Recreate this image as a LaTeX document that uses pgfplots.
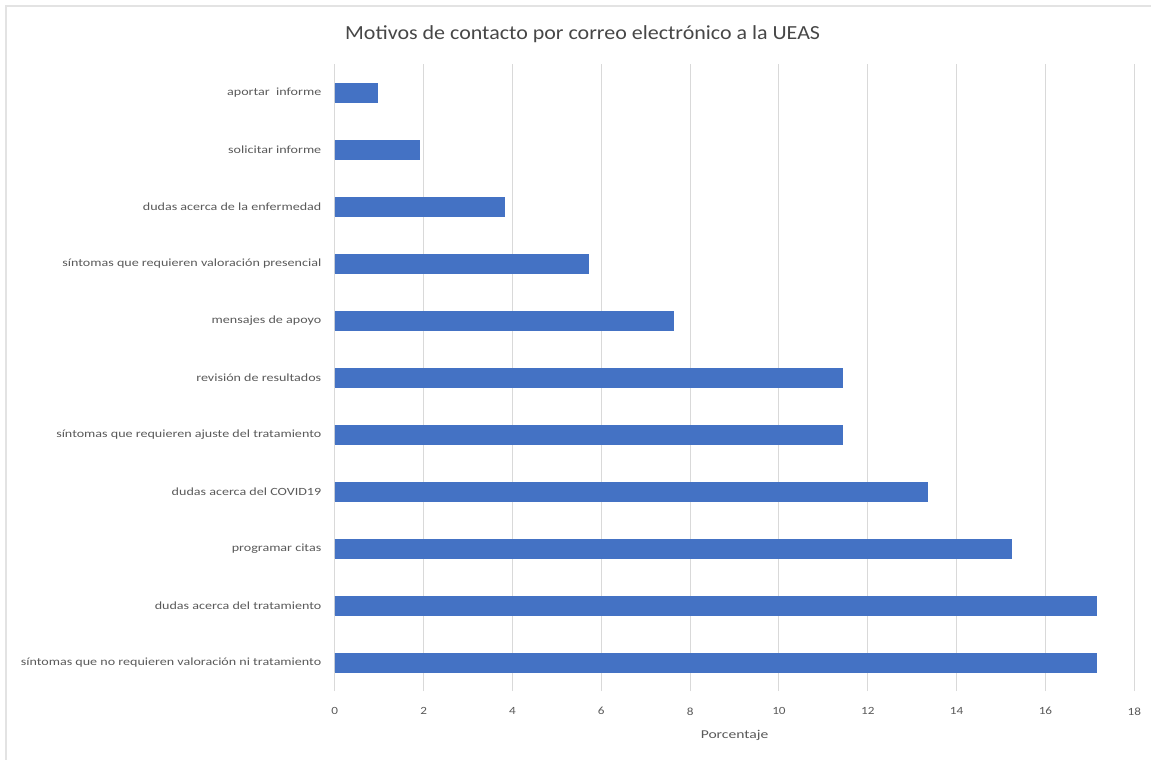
\documentclass[border=0pt]{standalone}
\usepackage{pgfplots}
\pgfplotsset{compat=1.18}
\usepackage{fontspec}
\setmainfont{Carlito}
\definecolor{barblue}{HTML}{4472C4}
\definecolor{gridgray}{HTML}{D9D9D9}
\definecolor{txtgray}{HTML}{595959}
\definecolor{framegray}{HTML}{E3E3E3}

\begin{document}
\begin{tikzpicture}[x=1pt,y=1pt]
  % page frame (reference is 1152 x 760 px)
  \path (0,0) rectangle (1152,760);
  \draw[framegray, line width=1.5pt] (6,0) -- (6,754) -- (1152,754);

  \node[anchor=center, text=txtgray!80!black, xscale=1.1,
        font=\fontsize{20}{24}\selectfont]
    at (583,726) {Motivos de contacto por correo electrónico a la UEAS};

  \begin{axis}[
    at={(335pt,68.5pt)}, anchor=south west,
    scale only axis,
    width=800pt, height=627pt,
    xbar,
    bar width=19pt,
    xmin=0, xmax=18,
    ymin=-0.5, ymax=10.5,
    xtick={0,2,...,18},
    ytick={0,...,10},
    yticklabels={
      síntomas que no requieren valoración ni tratamiento,
      dudas acerca del tratamiento,
      programar citas,
      dudas acerca del COVID19,
      síntomas que requieren ajuste del tratamiento,
      revisión de resultados,
      mensajes de apoyo,
      síntomas que requieren valoración presencial,
      dudas acerca de la enfermedad,
      solicitar informe,
      aportar\ \ informe},
    xmajorgrids,
    grid style={gridgray, line width=1pt},
    axis line style={draw=none},
    major tick length=0pt,
    tick label style={text=txtgray, font=\fontsize{11}{13}\selectfont},
    /pgf/number format/assume math mode=true,
    xticklabel style={yshift=-13pt, xscale=1.2},
    yticklabel style={xshift=-9pt, xscale=1.28},
    xlabel={Porcentaje},
    xlabel style={text=txtgray, font=\fontsize{12}{14}\selectfont,
                  xscale=1.3, yshift=-8pt},
  ]
    \addplot[fill=barblue, draw=barblue] coordinates {
      (17.14,0) (17.14,1) (15.24,2) (13.33,3) (11.43,4) (11.43,5)
      (7.62,6) (5.71,7) (3.81,8) (1.90,9) (0.95,10)
    };
  \end{axis}
\end{tikzpicture}
\end{document}
